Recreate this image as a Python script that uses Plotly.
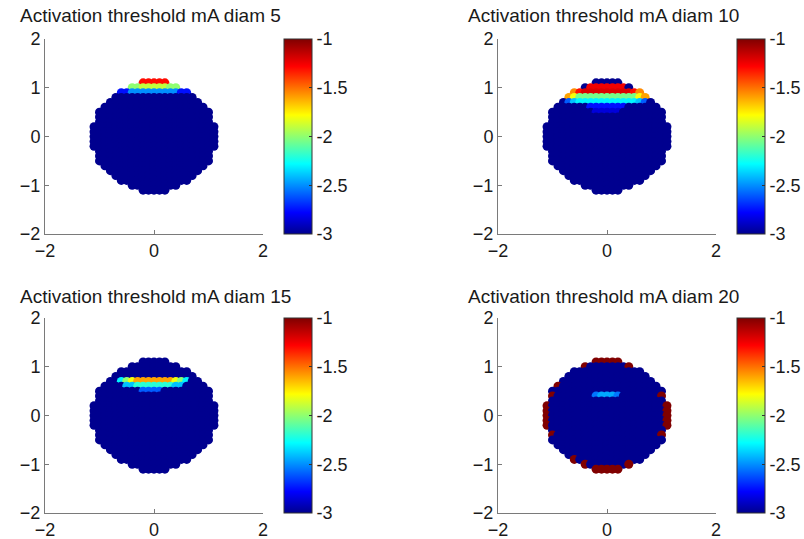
import plotly.graph_objects as go

# ---------------- data ----------------
PANEL_TITLES = [
    "Activation threshold mA diam 5",
    "Activation threshold mA diam 10",
    "Activation threshold mA diam 15",
    "Activation threshold mA diam 20",
]

# electrode grid rows (y) and the half-width of each row (x extent)
ROW_Y = [1.1, 1.0, 0.9, 0.8, 0.7, 0.6, 0.5, 0.4, 0.3, 0.2, 0.1, 0.0,
         -0.1, -0.2, -0.3, -0.4, -0.5, -0.6, -0.7, -0.8, -0.9, -1.0, -1.1]
ROW_HALF_WIDTH = [0.2, 0.4, 0.6, 0.7, 0.8, 0.9, 1.0, 1.0, 1.0, 1.1, 1.1, 1.1,
                  1.1, 1.1, 1.0, 1.0, 1.0, 0.9, 0.8, 0.7, 0.6, 0.4, 0.2]
GRID_STEP = 0.1
BASE_VALUE = -3.0  # value of all points not listed below (clipped at colour minimum)

# bands: (row y, x from, x to, log10 threshold value); later entries override earlier
DIAM5_BANDS = [
    (1.1, -0.2, 0.2, -1.3),
    (1.0, -0.4, 0.4, -2.0),
    (1.0, -0.2, 0.2, -1.9),
    (0.9, -0.6, 0.6, -2.75),
    (0.9, -0.4, 0.4, -2.5),
]
DIAM10_BANDS = [
    (1.0, -0.3, 0.3, -1.25),
    (0.9, -0.6, 0.6, -1.55),
    (0.9, -0.5, 0.5, -1.3),
    (0.9, -0.4, 0.4, -1.2),
    (0.8, -0.7, 0.7, -1.6),
    (0.8, -0.6, 0.6, -1.8),
    (0.8, -0.5, 0.5, -2.05),
    (0.7, -0.7, 0.7, -2.6),
    (0.7, -0.6, 0.6, -2.4),
    (0.7, -0.5, 0.5, -2.3),
    (0.6, -0.3, 0.3, -2.75),
    (0.5, -0.2, 0.2, -2.85),
]
DIAM15_BANDS = [
    (0.7, -0.6, 0.6, -2.3),
    (0.7, -0.5, 0.5, -2.0),
    (0.7, -0.4, 0.4, -1.8),
    (0.7, -0.3, 0.3, -1.6),
    (0.6, -0.5, 0.5, -2.4),
    (0.6, -0.3, 0.3, -2.2),
    (0.5, -0.2, 0.1, -2.6),
]
DIAM20_BANDS = [
    (1.1, -0.2, 0.2, -1.0),
    (1.0, -0.4, -0.4, -1.0),
    (1.0, 0.4, 0.4, -1.0),
    (0.6, -0.9, -0.9, -1.0),
    (0.4, -1.0, -1.0, -1.0),
    (0.4, 1.0, 1.0, -1.0),
    (0.4, -0.2, 0.2, -2.55),
    (0.4, -0.1, 0.1, -2.45),
    (0.2, -1.1, -1.1, -1.0),
    (0.1, -1.1, -1.1, -1.0),
    (0.0, -1.1, -1.1, -1.0),
    (-0.1, -1.1, -1.1, -1.0),
    (-0.2, -1.1, -1.1, -1.0),
    (0.2, 1.1, 1.1, -1.0),
    (0.1, 1.1, 1.1, -1.0),
    (0.0, 1.1, 1.1, -1.0),
    (-0.1, 1.1, 1.1, -1.0),
    (-0.2, 1.1, 1.1, -1.0),
    (-0.4, -1.0, -1.0, -1.0),
    (-0.4, 1.0, 1.0, -1.0),
    (-0.9, -0.6, -0.6, -1.0),
    (-1.0, -0.4, -0.4, -1.0),
    (-1.0, 0.4, 0.4, -1.0),
    (-1.1, -0.2, 0.2, -1.0),
]
PANEL_BANDS = [DIAM5_BANDS, DIAM10_BANDS, DIAM15_BANDS, DIAM20_BANDS]

COLOR_MIN, COLOR_MAX = -3, -1
COLORBAR_TICKS = [-3, -2.5, -2, -1.5, -1]
X_TICKS = [-2, 0, 2]
Y_TICKS = [-2, -1, 0, 1, 2]

# MATLAB "jet"
JET = [[0.0, "#00008F"], [0.11, "#0000FF"], [0.36, "#00FFFF"],
       [0.61, "#FFFF00"], [0.86, "#FF0000"], [1.0, "#800000"]]


def build_points(bands):
    xs, ys, vs = [], [], []
    for y, h in zip(ROW_Y, ROW_HALF_WIDTH):
        n = int(round(h / GRID_STEP))
        for k in range(-n, n + 1):
            x = round(k * GRID_STEP, 2)
            v = BASE_VALUE
            for by, bx0, bx1, bv in bands:
                if abs(by - y) < 1e-6 and bx0 - 1e-6 <= x <= bx1 + 1e-6:
                    v = bv
            xs.append(x)
            ys.append(y)
            vs.append(v)
    return xs, ys, vs


W, H = 804, 539
FONT = "Liberation Sans, Arial, sans-serif"

# pixel layout (left, right, top, bottom of each axes box) and colourbar left edge
AXES_PX = [(45, 263, 39, 234), (498, 716, 39, 234),
           (45, 263, 318, 513), (498, 716, 318, 513)]
CBAR_LEFT_PX = [284, 737, 284, 737]
TITLE_PX = [(18, 15), (466, 15), (18, 296), (466, 296)]

fig = go.Figure()
layout = dict(template="none", width=W, height=H,
              margin=dict(l=0, r=0, t=0, b=0, autoexpand=False),
              paper_bgcolor="white", plot_bgcolor="white",
              font=dict(family=FONT, size=18, color="#1a1a1a"),
              showlegend=False, annotations=[])

for i in range(4):
    xs, ys, vs = build_points(PANEL_BANDS[i])
    sfx = "" if i == 0 else str(i + 1)
    fig.add_trace(go.Scatter(
        x=xs, y=ys, mode="markers",
        xaxis="x" + sfx, yaxis="y" + sfx,
        marker=dict(size=9, color=vs, coloraxis="coloraxis" + sfx,
                    line=dict(width=0)),
        hoverinfo="skip"))
    l, r, t, b = AXES_PX[i]
    axis_common = dict(showgrid=False, zeroline=False, showline=True,
                       linecolor="#7a7a7a", linewidth=1, ticks="inside",
                       ticklen=4, tickcolor="#7a7a7a", mirror=False,
                       automargin=False,
                       tickfont=dict(size=18, color="#1a1a1a"), fixedrange=True)
    layout["xaxis" + sfx] = dict(axis_common, domain=[l / W, r / W], range=[-2, 2],
                                 tickvals=X_TICKS, anchor="y" + sfx)
    layout["yaxis" + sfx] = dict(axis_common, domain=[1 - b / H, 1 - t / H],
                                 range=[-2, 2], tickvals=Y_TICKS, anchor="x" + sfx)
    layout["coloraxis" + sfx] = dict(
        cmin=COLOR_MIN, cmax=COLOR_MAX, colorscale=JET,
        colorbar=dict(x=CBAR_LEFT_PX[i] / W, xanchor="left",
                      y=1 - (t + b) / 2 / H, yanchor="middle",
                      len=b - t, lenmode="pixels",
                      thickness=28, thicknessmode="pixels",
                      xpad=0, ypad=0, outlinewidth=1, outlinecolor="#333",
                      tickvals=COLORBAR_TICKS,
                      ticktext=[f"{v:g}" for v in COLORBAR_TICKS],
                      ticks="inside", ticklen=3, tickcolor="#333",
                      tickfont=dict(size=18, color="#1a1a1a")))
    tx, ty = TITLE_PX[i]
    layout["annotations"].append(dict(
        text=PANEL_TITLES[i], x=tx / W, y=1 - ty / H, xref="paper", yref="paper",
        xanchor="left", yanchor="middle", showarrow=False,
        font=dict(size=19, family=FONT, color="#1a1a1a")))

fig.update_layout(**layout)
fig.write_html("out.html",
               config={"displayModeBar": False},
               post_script="document.body.style.margin='0';"
                           "document.body.style.overflow='hidden';")
